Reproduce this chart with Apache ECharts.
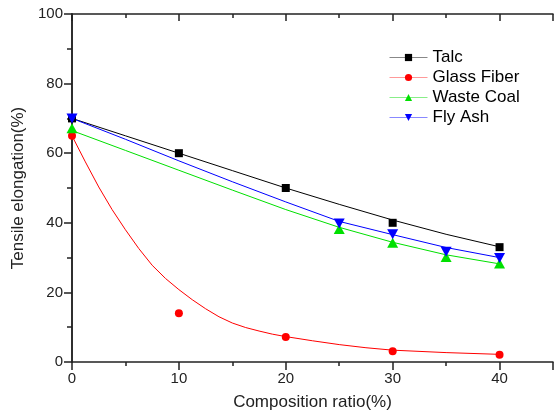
<!DOCTYPE html>
<html>
<head>
<meta charset="utf-8">
<script src="https://cdn.jsdelivr.net/npm/echarts@6/dist/echarts.min.js"></script>
<style>html,body{margin:0;padding:0;background:#fff}#c{width:556px;height:416px}</style>
</head>
<body>
<div id="c"></div>
<script>
// measured points
const talcX = [0, 10, 20, 30, 40];
const talcY = [70, 60, 50, 40, 33];
const glassX = [0, 10, 20, 30, 40];
const glassY = [65, 14, 7.2, 3.1, 2.1];
const coalX = [0, 25, 30, 35, 40];
const coalY = [67.2, 38.2, 34.3, 30.2, 28.3];
const ashX = [0, 25, 30, 35, 40];
const ashY = [70, 39.8, 36.7, 31.7, 29.9];

// fitted curves
const talcFitX = [0, 5, 10, 15, 20, 25, 30, 35, 40];
const talcFitY = [70, 65, 60, 55, 50, 45.3, 40.8, 36.7, 33.1];
const glassFitX = [0, 1.25, 2.5, 3.75, 5, 6.25, 7.5, 8.75, 10, 11.25, 12.5, 13.75, 15, 16.25, 17.5, 18.75, 20, 22.5, 25, 27.5, 30, 35, 40];
const glassFitY = [65, 57.5, 50.3, 43.8, 38, 32.6, 27.8, 24, 20.8, 17.9, 15.3, 13, 11.2, 9.9, 8.9, 8, 7.3, 6.1, 5, 4.1, 3.4, 2.7, 2.2];
const coalFitX = [0, 5, 10, 15, 20, 25, 30, 35, 40];
const coalFitY = [66.5, 60.8, 55.1, 49.4, 43.8, 38.7, 34.4, 30.8, 28.2];
const ashFitX = [0, 5, 10, 15, 20, 25, 30, 35, 40];
const ashFitY = [70, 64, 57.8, 51.8, 46, 40.4, 36.6, 32.9, 30];

const names = ['Talc', 'Glass Fiber', 'Waste Coal', 'Fly Ash'];
const xTicks = [0, 10, 20, 30, 40];

const pairs = (xs, ys) => xs.map((x, i) => [x, ys[i]]);
const downTri = 'path://M0,0L10,0L5,10Z';

const colors = ['#000000', '#ff0000', '#00e000', '#0000ff'];
const legendLine = ['#888888', '#ff9999', '#88ee88', '#8888ff'];
const symbols = ['rect', 'circle', 'triangle', downTri];
const symSizes = [8, 8, [11, 10], [11, 10]];
const pts = [pairs(talcX, talcY), pairs(glassX, glassY), pairs(coalX, coalY), pairs(ashX, ashY)];
const fits = [pairs(talcFitX, talcFitY), pairs(glassFitX, glassFitY), pairs(coalFitX, coalFitY), pairs(ashFitX, ashFitY)];

const font = '"Liberation Sans", Arial, sans-serif';
const axisColor = '#222';

const series = [];
names.forEach((n, i) => {
  series.push({
    name: n, type: 'line', data: fits[i], smooth: false, showSymbol: false,
    symbol: symbols[i], symbolSize: symSizes[i],
    lineStyle: { color: colors[i], width: 1, join: 'round' }, itemStyle: { color: colors[i] },
    silent: true, z: 2
  });
});
names.forEach((n, i) => {
  series.push({
    name: n + ' pts', type: 'scatter', data: pts[i],
    symbol: symbols[i], symbolSize: symSizes[i],
    itemStyle: { color: colors[i], opacity: 1 }, z: 3
  });
});

const baseX = { type: 'value', min: 0, max: 45, gridIndex: 0, splitLine: { show: false } };
const chart = echarts.init(document.getElementById('c'), null, { renderer: 'canvas' });
chart.setOption({
  animation: false,
  backgroundColor: '#fff',
  grid: { left: 72, right: 2, top: 14, bottom: 54, containLabel: false },
  legend: {
    orient: 'vertical', left: 389, top: 49, itemWidth: 38, itemHeight: 9, itemGap: 3, padding: 0,
    textStyle: { fontFamily: font, fontSize: 17, color: '#000', padding: [0, 0, 0, 0] },
    itemStyle: { borderWidth: 0 },
    data: names.map((n, i) => ({ name: n, lineStyle: { color: legendLine[i], width: 1 }, itemStyle: { color: colors[i] } }))
  },
  xAxis: [
    Object.assign({}, baseX, {
      position: 'bottom', interval: 10,
      name: 'Composition ratio(%)', nameLocation: 'middle', nameGap: 32,
      nameTextStyle: { fontFamily: font, fontSize: 17, color: axisColor },
      axisLine: { show: true, lineStyle: { color: axisColor, width: 1.5 } },
      axisTick: { show: true, inside: false, length: 8, lineStyle: { color: axisColor, width: 1.5 } },
      axisLabel: { fontFamily: font, fontSize: 15, color: axisColor, margin: 9,
        formatter: v => (xTicks.indexOf(v) >= 0 ? String(v) : '') }
    }),
    Object.assign({}, baseX, {
      position: 'bottom', interval: 5,
      axisLine: { show: false }, axisLabel: { show: false },
      axisTick: { show: true, inside: false, length: 4, lineStyle: { color: axisColor, width: 1.5 } }
    }),
    Object.assign({}, baseX, {
      position: 'top', interval: 10,
      axisLine: { show: true, lineStyle: { color: axisColor, width: 1.5 } }, axisLabel: { show: false },
      axisTick: { show: true, inside: true, length: 7, lineStyle: { color: axisColor, width: 1.5 } }
    }),
    Object.assign({}, baseX, {
      position: 'top', interval: 5,
      axisLine: { show: false }, axisLabel: { show: false },
      axisTick: { show: true, inside: true, length: 4, lineStyle: { color: axisColor, width: 1.5 } }
    })
  ],
  yAxis: [
    {
      type: 'value', min: 0, max: 100, interval: 20, position: 'left', splitLine: { show: false },
      name: 'Tensile elongation(%)', nameLocation: 'middle', nameGap: 44,
      nameTextStyle: { fontFamily: font, fontSize: 17, color: axisColor },
      axisLine: { show: true, lineStyle: { color: axisColor, width: 1.5 } },
      axisTick: { show: true, inside: false, length: 8, lineStyle: { color: axisColor, width: 1.5 } },
      minorTick: { show: true, splitNumber: 2, length: 5, lineStyle: { color: axisColor, width: 1.5 } },
      axisLabel: { fontFamily: font, fontSize: 15, color: axisColor, margin: 9 }
    },
    {
      type: 'value', min: 0, max: 100, interval: 20, position: 'right', splitLine: { show: false },
      axisLine: { show: true, lineStyle: { color: axisColor, width: 1.5 } },
      axisTick: { show: true, inside: true, length: 7, lineStyle: { color: axisColor, width: 1.5 } },
      minorTick: { show: true, splitNumber: 2, length: 4, lineStyle: { color: axisColor, width: 1.5 } },
      axisLabel: { show: false }
    }
  ],
  series: series
});
</script>
</body>
</html>
